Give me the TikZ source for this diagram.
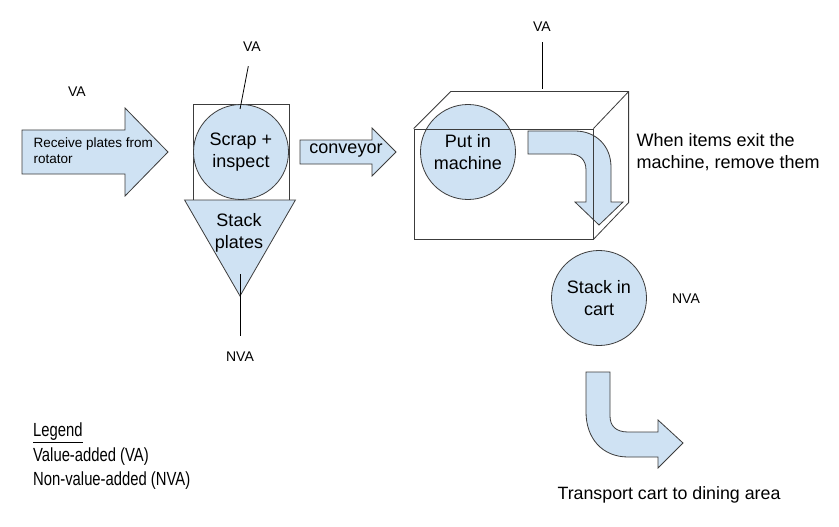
\documentclass[tikz,border=0pt]{standalone}
\usepackage{fontspec}
\setmainfont{Liberation Sans}
\newfontfamily\legendfont[FakeStretch=0.78]{Liberation Sans}
\usetikzlibrary{shapes.geometric}
\definecolor{blu}{HTML}{CFE2F3}
\definecolor{edge}{HTML}{3C3C3C}

\begin{document}
\begin{tikzpicture}[x=1pt,y=-1pt,
  blk/.style={draw=edge,fill=blu,line width=0.8pt},
  box/.style={draw=edge,line width=0.8pt,inner sep=0pt},
  circ/.style={blk,circle,minimum size=95pt,inner sep=0pt,align=center,font=\fontsize{18}{22}\selectfont},
  big/.style={align=center,font=\fontsize{18}{22}\selectfont},
  tag/.style={font=\fontsize{14}{16}\selectfont},
  wire/.style={draw=black,line width=0.8pt}]
\fill[white] (0,0) rectangle (839,527);
\useasboundingbox (0,0) rectangle (839,527);

% receive plates
\draw[blk] (22,130) -- (125,130) -- (125,108) -- (168,152) -- (125,196) -- (125,174) -- (22,174) -- cycle;
\node[font=\fontsize{13.5}{16}\selectfont,align=left,anchor=west] (recv) at (30,151) {Receive plates from\\rotator};
\node[tag]  (va0)  at (77,92)   {VA};

% scrap + inspect / stack plates
\node[box,minimum size=96pt] (sqr)   at (241,152) {};
\node[circ]                  (scrap) at (241,152) {Scrap +\\inspect};
\node[blk,regular polygon,regular polygon sides=3,shape border rotate=180,minimum size=128pt,inner sep=0pt] (stack) at (240,232) {};
\node[big]  (stacktxt) at (239,233) {Stack\\plates};
\node[tag]  (va1)  at (252,47)  {VA};
\node[tag]  (nva1) at (240,357) {NVA};
\draw[wire,shorten <=11pt,shorten >=-5pt]  (va1)  -- (scrap.north);
\draw[wire,shorten <=13pt,shorten >=-23pt] (nva1) -- (stack.corner 1);

% conveyor
\draw[blk] (300,140) -- (372,140) -- (372,128) -- (396,152) -- (372,176) -- (372,164) -- (300,164) -- cycle;
\node[big]  (conv) at (346,151) {conveyor};

% machine
\node[circ] (put)  at (468,152) {Put in\\machine};
\draw[blk] (528,131) -- (575,131) .. controls (596,131) and (611,146) .. (611,167) -- (611,202) -- (623,202) -- (599,225) -- (575,202) -- (586,202) -- (586,170) .. controls (586,160) and (580,154) .. (570,154) -- (528,154) -- cycle;
\node[box,minimum width=179pt,minimum height=110pt] (mach) at (503.5,184) {};
\draw[box] (mach.north west) -- ++(37,-37) coordinate (btl) -- ++(178,0) coordinate (btr) -- ++(0,111) -- (mach.south east);
\draw[box] (mach.north east) -- (btr);
\node[tag]  (va2)  at (542,27)  {VA};
\draw[wire,shorten <=7pt,shorten >=3pt] (va2) -- (va2 |- btl);
\node[big,align=left,anchor=west] (exit) at (633,152) {When items exit the\\machine, remove them};

% stack in cart
\node[circ] (cart) at (599,298) {Stack in\\cart};
\node[tag]  (nva2) at (686,299) {NVA};

% transport
\draw[blk] (586,372) -- (586,412) .. controls (586,438) and (602,457) .. (628,457) -- (658,457) -- (658,468) -- (683,443) -- (658,420) -- (658,432) -- (628,432) .. controls (616,432) and (610,426) .. (610,416) -- (610,372) -- cycle;
\node[font=\fontsize{17.8}{20}\selectfont] (trans) at (669,495) {Transport cart to dining area};

% legend
\node[font=\legendfont\fontsize{19}{24.5}\selectfont,align=left,anchor=north west,inner sep=0pt] (legend) at (33,423) {\underline{Legend}\\Value-added (VA)\\Non-value-added (NVA)};
\end{tikzpicture}
\end{document}
